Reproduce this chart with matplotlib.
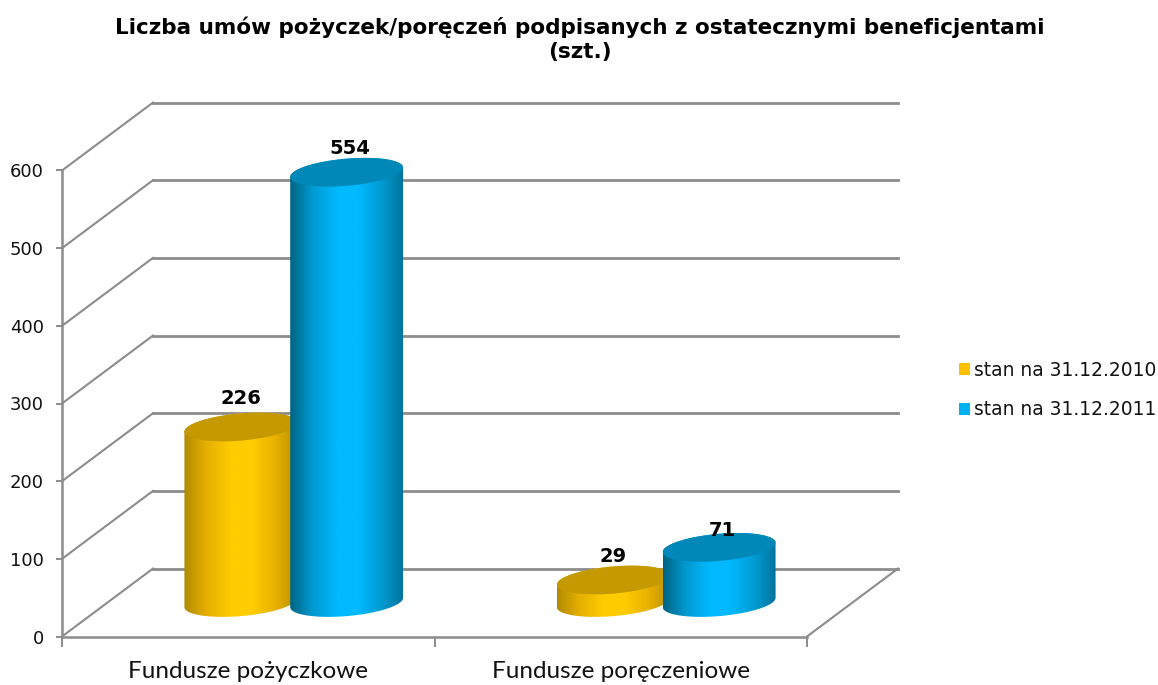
import numpy as np
import matplotlib.pyplot as plt
from matplotlib.colors import LinearSegmentedColormap
from matplotlib.patches import Patch, PathPatch, Polygon
from matplotlib.path import Path

categories = ['Fundusze pożyczkowe', 'Fundusze poręczeniowe']
series_names = ['stan na 31.12.2010', 'stan na 31.12.2011']
values_2010 = [226, 29]
values_2011 = [554, 71]
y_ticks = [0, 100, 200, 300, 400, 500, 600]

W, H = 1158, 685
GRID = '#8c8c8c'

# depth of the fake 3d box, in data units
DX = 0.2443
DY = 87.5
BAR_W = 0.303
OFFSET = 0.142
TILT = 6.0
MINOR = 17.5

fig = plt.figure(figsize=(W / 100, H / 100), dpi=100)
ax = fig.add_axes([62 / W, 1 - 636.5 / H, 745 / W, 466 / H])
ax.set_xlim(0, 2)
ax.set_ylim(0, 600)
ax.patch.set_visible(False)

for s in ['top', 'right']:
    ax.spines[s].set_visible(False)
for s in ['left', 'bottom']:
    ax.spines[s].set_color(GRID)
    ax.spines[s].set_linewidth(1.8)

ax.set_yticks(y_ticks)
ax.set_xticks([0, 1, 2])
ax.set_xticklabels([])
ax.set_xticks([0.5, 1.5], minor=True)
ax.set_xticklabels(categories, minor=True, family='Lato', fontsize=17.5)
ax.tick_params(axis='x', which='major', length=7.5, width=1.4, color=GRID)
ax.tick_params(axis='x', which='minor', length=0, pad=18, labelcolor='#111111')
ax.tick_params(axis='y', length=4, width=1.4, color=GRID, labelsize=13, pad=9, labelcolor='#111111')

# walls: diagonal up the side and then along the back
for v in y_ticks:
    ax.plot([0, DX], [v, v + DY], color=GRID, lw=1.5, clip_on=False, zorder=1)
    ax.plot([DX, 2 + DX], [v + DY, v + DY], color=GRID, lw=2.0, clip_on=False, zorder=1)
ax.plot([2, 2 + DX], [0, DY], color=GRID, lw=1.5, clip_on=False, zorder=1)


def ellipse(cx, cy, t):
    return cx + BAR_W / 2 * np.cos(t), cy + TILT * np.cos(t) + MINOR * np.sin(t)


def cylinder(x, val, dark_l, mid, bright, dark_r, top_col, z):
    cx = x + DX / 2
    y0 = DY / 2
    y1 = y0 + val
    t_low = np.linspace(np.pi, 2 * np.pi, 80)
    t_up = np.linspace(0, np.pi, 80)
    bx, by = ellipse(cx, y0, t_low)
    ux, uy = ellipse(cx, y1, t_up)
    body = np.column_stack([np.r_[bx, ux], np.r_[by, uy]])
    clip = PathPatch(Path(np.vstack([body, body[:1]])), transform=ax.transData,
                     fc='none', ec='none')
    ax.add_patch(clip)
    cm = LinearSegmentedColormap.from_list('c', [(0, dark_l), (0.2, mid), (0.42, bright),
                                                 (0.6, bright), (0.82, mid), (1, dark_r)])
    im = ax.imshow(np.linspace(0, 1, 256).reshape(1, -1), cmap=cm, aspect='auto',
                   extent=[cx - BAR_W / 2, cx + BAR_W / 2, y0 - 30, y1 + 30],
                   interpolation='bilinear', zorder=z)
    im.set_clip_box(fig.bbox)
    im.set_clip_path(clip)
    tx, ty = ellipse(cx, y1, np.linspace(0, 2 * np.pi, 160))
    ax.add_patch(Polygon(np.column_stack([tx, ty]), closed=True, fc=top_col, ec='none',
                         zorder=z + 0.1, clip_on=False))


x_pos = np.array([0.5, 1.5])
for i in range(2):
    cylinder(x_pos[i] - OFFSET, values_2010[i], '#b08a00', '#e6b000', '#ffcc00', '#b89000',
             '#c49a00', 3 + i)
    cylinder(x_pos[i] + OFFSET, values_2011[i], '#006484', '#009ad0', '#00b9ff', '#00749c',
             '#0088b8', 3.5 + i)

ax.set_xlim(0, 2)
ax.set_ylim(0, 600)

# labels sit above the top ellipse, lift in pixels
lifts_2010 = [28, 23]
lifts_2011 = [24, 17]
for i in range(2):
    ax.annotate(str(values_2010[i]), (x_pos[i] - OFFSET + DX / 2, values_2010[i] + DY / 2),
                xytext=(0, lifts_2010[i] * 0.72), textcoords='offset points', ha='center', va='center',
                fontsize=14, fontweight='bold', color='black', zorder=10, annotation_clip=False)
    ax.annotate(str(values_2011[i]), (x_pos[i] + OFFSET + DX / 2, values_2011[i] + DY / 2),
                xytext=(2, lifts_2011[i] * 0.72), textcoords='offset points', ha='center', va='center',
                fontsize=14, fontweight='bold', color='black', zorder=10, annotation_clip=False)

fig.text(580 / W, 1 - 39.5 / H,
         'Liczba umów pożyczek/poręczeń podpisanych z ostatecznymi beneficjentami\n(szt.)',
         ha='center', va='center', fontsize=15.45, fontweight='bold', color='black', linespacing=1.22)

handles = [Patch(fc='#ffc000', ec='none'), Patch(fc='#00b0f0', ec='none')]
fig.legend(handles, series_names, loc='center left', bbox_to_anchor=(959 / W, 1 - 390 / H),
           frameon=False, fontsize=13.4, borderpad=0, borderaxespad=0, handlelength=0.6,
           handleheight=0.6, handletextpad=0.2, labelspacing=1.1, labelcolor='#111111')

fig.savefig('out.png', dpi=100)
